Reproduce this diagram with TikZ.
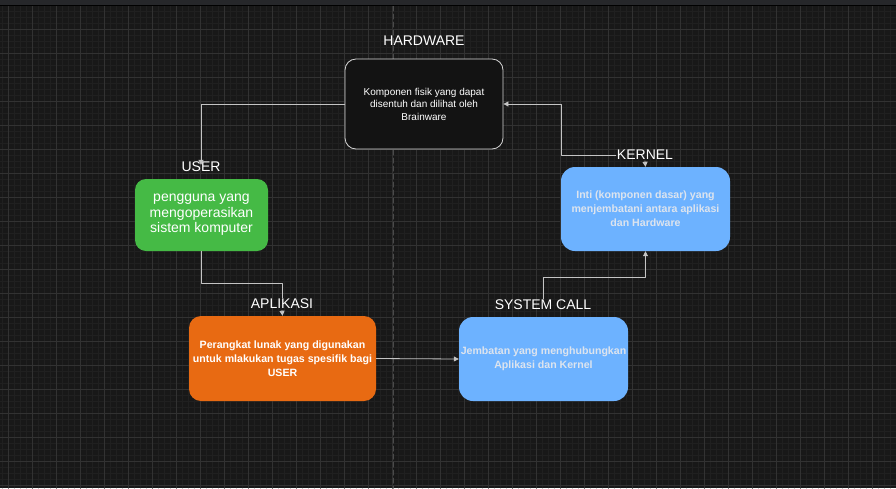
\documentclass[tikz,border=0pt]{standalone}
\usepackage{fontspec}
\setmainfont{Liberation Sans}
\usepackage{xcolor}
\usetikzlibrary{arrows.meta}
\definecolor{canvas}{HTML}{181818}
\definecolor{topbar}{HTML}{26272A}
\definecolor{gridminor}{HTML}{202020}
\definecolor{gridmajor}{HTML}{323232}
\definecolor{pagedash}{HTML}{4A4A4A}
\definecolor{wiregray}{HTML}{C4C4C4}
\definecolor{hwfill}{HTML}{131313}
\definecolor{hwline}{HTML}{D6D6D6}
\definecolor{usergreen}{HTML}{45BA45}
\definecolor{appeorange}{HTML}{E86A12}
\definecolor{kernelblue}{HTML}{6DB2FF}
\definecolor{paletext}{HTML}{DDE4EE}

\begin{document}
\begin{tikzpicture}[x=1pt,y=-1pt,line cap=round,line join=round]
\tikzset{
    box/.style={rounded corners=11pt, align=center, inner sep=1pt},
    title/.style={text=white, inner sep=1pt, font=\fontsize{14}{16}\selectfont},
    wire/.style={draw=wiregray, line width=0.8pt},
    arrowwire/.style={wire, -{Triangle[width=5pt,length=5pt]}},
    bluebox/.style={box, fill=kernelblue, rounded corners=14pt, text=paletext,
        font=\bfseries\fontsize{10.6}{14}\selectfont},
}
\useasboundingbox (0,0) rectangle (896,488);
\fill[canvas] (0,0) rectangle (896,488);
\foreach \x in {2,8,...,896} \draw[gridminor, line width=0.8pt] (\x,6) -- (\x,488);
\foreach \y in {11,17,...,488} \draw[gridminor, line width=0.8pt] (0,\y) -- (896,\y);
\foreach \x in {8,32,...,896} \draw[gridmajor, line width=1pt] (\x,6) -- (\x,488);
\foreach \y in {29,53,...,488} \draw[gridmajor, line width=1pt] (0,\y) -- (896,\y);
\draw[pagedash, line width=1pt, dash pattern=on 5pt off 3pt] (393,6) -- (393,488);
\fill[topbar] (0,0) rectangle (896,4.5);
\draw[black, line width=1.2pt] (0,5.2) -- (896,5.2);

\node[box, fill=hwfill, draw=hwline, line width=0.8pt, minimum width=158pt, minimum height=90pt,
    text=white, font=\fontsize{10}{12.5}\selectfont] (hardware) at (424,104)
    {Komponen fisik yang dapat\\disentuh dan dilihat oleh\\Brainware};
\node[title] (hardwarelbl) at (424,41) {HARDWARE};

\node[box, fill=usergreen, minimum width=133pt, minimum height=72pt, text=white,
    font=\fontsize{14}{15.5}\selectfont] (user) at (201.5,215)
    {pengguna yang\\mengoperasikan\\sistem komputer};
\node[title] (userlbl) at (201,167) {USER};

\node[box, fill=appeorange, rounded corners=12pt, minimum width=187pt, minimum height=85pt,
    text=white, font=\bfseries\fontsize{10.6}{14}\selectfont] (aplikasi) at (282.5,358.5)
    {Perangkat lunak yang digunakan\\untuk mlakukan tugas spesifik bagi\\USER};
\node[title] (aplikasilbl) at (282,304) {APLIKASI};

\node[bluebox, minimum width=169pt, minimum height=84pt] (syscall) at (543.5,359)
    {Jembatan yang menghubungkan\\Aplikasi dan Kernel};
\node[title] (syscalllbl) at (543,305) {SYSTEM CALL};

\node[bluebox, minimum width=169pt, minimum height=84pt] (kernel) at (645.5,209)
    {Inti (komponen dasar) yang\\menjembatani antara aplikasi\\dan Hardware};
\node[title] (kernellbl) at (645,155) {KERNEL};

\draw[arrowwire] (hardware.west) -| ([yshift=-4pt]userlbl.north);
\draw[wire] (user.south) -- ++(0,32) -| (aplikasilbl.north);
\draw[arrowwire] (aplikasilbl.south) -- (aplikasi.north);
\draw[arrowwire] (aplikasi.east) -- (syscall.west);
\draw[arrowwire] (syscalllbl.north) -- ++(0,-21) -| (kernel.south);
\draw[arrowwire] (kernellbl.west) -- ++(-54,0) |- (hardware.east);
\draw[arrowwire] (kernellbl.south) -- (kernel.north);
\end{tikzpicture}
\end{document}
